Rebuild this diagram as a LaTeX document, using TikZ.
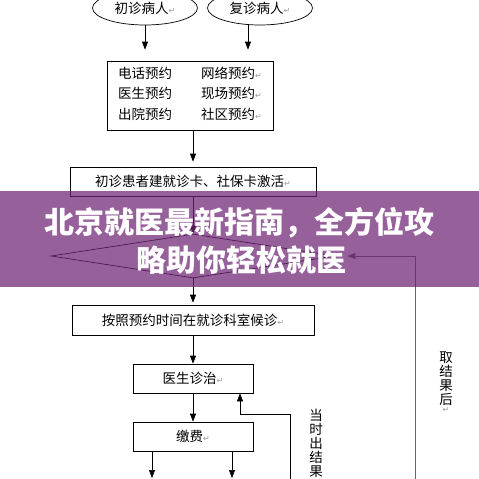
\documentclass[tikz,border=0pt]{standalone}
\usepackage{fontspec}
\usepackage{xcolor}
\usepackage{tikz}
\usetikzlibrary{shapes.geometric, arrows.meta, positioning, calc}
\newfontfamily\cjk{Noto Sans CJK SC}
\newfontfamily\symb{DejaVu Sans}
\newcommand{\pmark}{{\symb\fontsize{8}{8}\selectfont\color{black!40}↵}}
\definecolor{bannerpurple}{RGB}{110,35,115}

\begin{document}
\begin{tikzpicture}[
    x=1pt, y=-1pt,
    patient/.style={ellipse, draw, line width=0.7pt, minimum width=105pt, minimum height=34pt, inner sep=0pt, font=\cjk\fontsize{13.5}{16}\selectfont},
    box/.style={rectangle, draw, line width=0.7pt, inner sep=0pt, align=center, font=\cjk\fontsize{13.5}{16}\selectfont},
    decision/.style={diamond, draw, line width=0.7pt, inner sep=0pt, minimum width=284pt, minimum height=44pt},
    arrow/.style={line width=0.7pt, -{Triangle[length=8pt, width=6pt]}},
    note/.style={align=center, inner sep=0pt, font=\cjk\fontsize{13.5}{14}\selectfont},
    headline/.style={align=center, text=white, font=\cjk\bfseries\fontsize{30}{36}\selectfont}
]
\useasboundingbox (0,0) rectangle (479,479);
\clip (0,0) rectangle (479,479);

% Patients
\node[patient] (first) at (145,8) {初诊病人\pmark};
\node[patient] (again) at (260,8) {复诊病人\pmark};

% Boxes
\node[box, minimum width=166pt, minimum height=69pt] (ways) at (190,95.5) {%
  \begin{tabular}{@{}l@{\hspace{29pt}}l@{}}
  电话预约 & 网络预约\pmark\\[4pt]
  医生预约 & 现场预约\pmark\\[4pt]
  出院预约 & 社区预约\pmark
  \end{tabular}};
\node[box, minimum width=246pt, minimum height=29pt] (card) at (193,181.5) {初诊患者建就诊卡、社保卡激活\pmark};
\node[decision] (check) at (193,256) {};
\node[box, minimum width=242pt, minimum height=30pt] (wait) at (193,320) {按照预约时间在就诊科室候诊\pmark};
\node[box, minimum width=120pt, minimum height=29pt] (doctor) at (193,378.5) {医生诊治\pmark};
\node[box, minimum width=120pt, minimum height=29pt] (pay) at (193,436.5) {缴费\pmark};

% Loose ends
\coordinate (payl) at (152,478);
\coordinate (payr) at (232,478);
\coordinate (now) at (290,490);
\coordinate (bend) at (240,414);
\coordinate (later) at (415,490);

% Connections
\draw[arrow, shorten >=11pt] (first.south) -- (first.south |- ways.north);
\draw[arrow, shorten >=11pt] ([xshift=-12pt]again.south) -- ([xshift=-12pt]again.south |- ways.north);
\draw[arrow, shorten >=5pt] (ways.south -| card) -- (card);
\draw[arrow] (card) -- (check);
\draw[arrow, shorten >=2pt] (check) -- (wait);
\draw[arrow] (wait) -- (doctor);
\draw[arrow] (doctor) -- (pay);
\draw[arrow] (pay.south -| payl) -- (payl);
\draw[arrow] (pay.south -| payr) -- (payr);
\draw[arrow] (now) |- (bend) -- (bend |- doctor.south);
\draw[arrow, black!60, shorten >=12pt] (later) |- (check.east);

% Labels
\node[note, anchor=north] (nowtext) at (316,409) {当\\时\\出\\结\\果};
\node[note, anchor=north] (latertext) at (446,352) {取\\结\\果\\后\\[-6pt]\pmark};

% Banner
\fill[bannerpurple, opacity=0.72] (0,191) rectangle (479,287);
\node[headline] (title) at (239,223) {北京就医最新指南，全方位攻};
\node[headline] (subtitle) at (241,260) {略助你轻松就医};
\end{tikzpicture}
\end{document}
